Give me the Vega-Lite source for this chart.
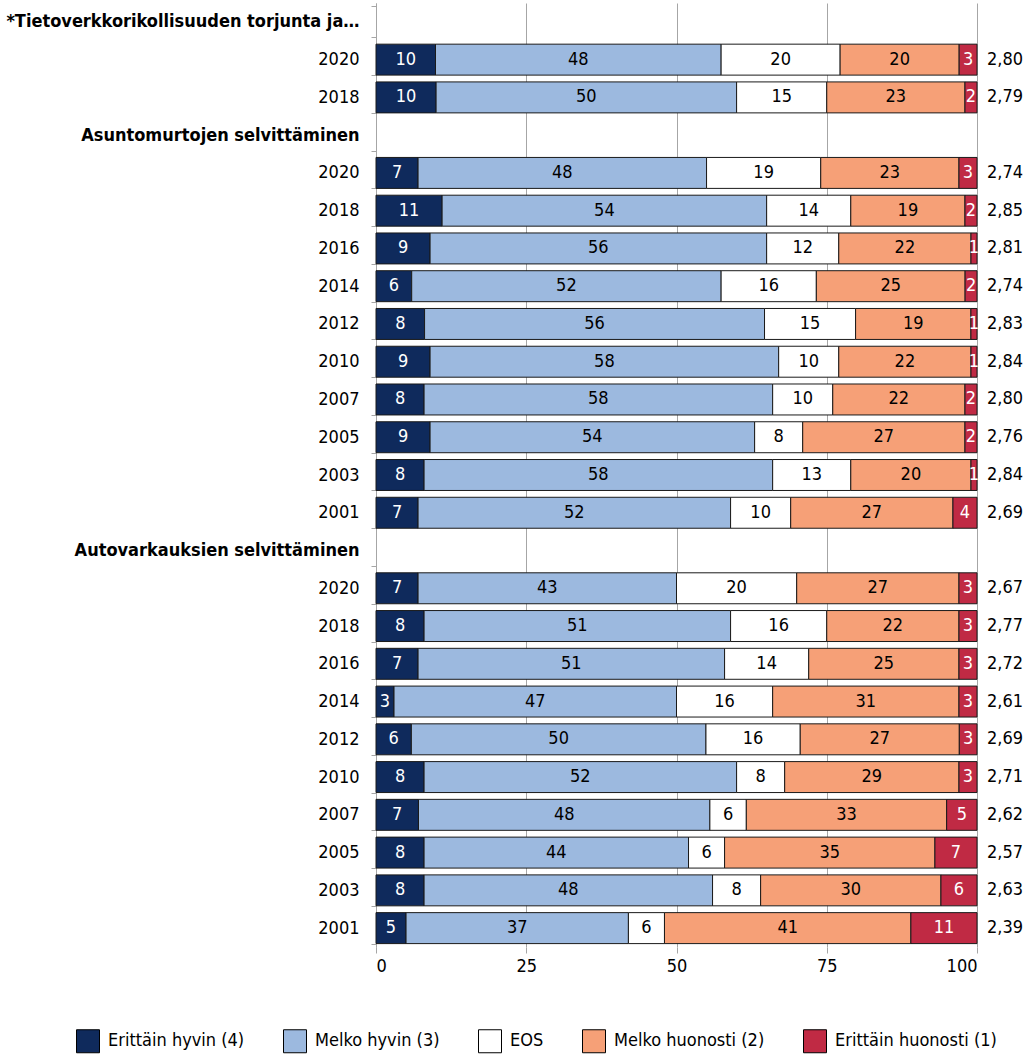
{
  "$schema": "https://vega.github.io/schema/vega-lite/v6.json",
  "width": 601,
  "height": 944,
  "autosize": {"type": "none"},
  "padding": {"left": 376, "top": 3, "right": 54, "bottom": 108},
  "background": "white",
  "config": {
    "font": "DejaVu Sans Condensed",
    "view": {"stroke": null}
  },
  "datasets": {
    "means": [
      {"row": "T|2020", "mean": "2,80"}, {"row": "T|2018", "mean": "2,79"},
      {"row": "A|2020", "mean": "2,74"}, {"row": "A|2018", "mean": "2,85"}, {"row": "A|2016", "mean": "2,81"}, {"row": "A|2014", "mean": "2,74"}, {"row": "A|2012", "mean": "2,83"},
      {"row": "A|2010", "mean": "2,84"}, {"row": "A|2007", "mean": "2,80"}, {"row": "A|2005", "mean": "2,76"}, {"row": "A|2003", "mean": "2,84"}, {"row": "A|2001", "mean": "2,69"},
      {"row": "V|2020", "mean": "2,67"}, {"row": "V|2018", "mean": "2,77"}, {"row": "V|2016", "mean": "2,72"}, {"row": "V|2014", "mean": "2,61"}, {"row": "V|2012", "mean": "2,69"},
      {"row": "V|2010", "mean": "2,71"}, {"row": "V|2007", "mean": "2,62"}, {"row": "V|2005", "mean": "2,57"}, {"row": "V|2003", "mean": "2,63"}, {"row": "V|2001", "mean": "2,39"}
    ],
    "bars": [
      {"row": "T|2020", "cat": "k1", "val": 10}, {"row": "T|2020", "cat": "k2", "val": 48}, {"row": "T|2020", "cat": "k3", "val": 20}, {"row": "T|2020", "cat": "k4", "val": 20}, {"row": "T|2020", "cat": "k5", "val": 3},
      {"row": "T|2018", "cat": "k1", "val": 10}, {"row": "T|2018", "cat": "k2", "val": 50}, {"row": "T|2018", "cat": "k3", "val": 15}, {"row": "T|2018", "cat": "k4", "val": 23}, {"row": "T|2018", "cat": "k5", "val": 2},
      {"row": "A|2020", "cat": "k1", "val": 7}, {"row": "A|2020", "cat": "k2", "val": 48}, {"row": "A|2020", "cat": "k3", "val": 19}, {"row": "A|2020", "cat": "k4", "val": 23}, {"row": "A|2020", "cat": "k5", "val": 3},
      {"row": "A|2018", "cat": "k1", "val": 11}, {"row": "A|2018", "cat": "k2", "val": 54}, {"row": "A|2018", "cat": "k3", "val": 14}, {"row": "A|2018", "cat": "k4", "val": 19}, {"row": "A|2018", "cat": "k5", "val": 2},
      {"row": "A|2016", "cat": "k1", "val": 9}, {"row": "A|2016", "cat": "k2", "val": 56}, {"row": "A|2016", "cat": "k3", "val": 12}, {"row": "A|2016", "cat": "k4", "val": 22}, {"row": "A|2016", "cat": "k5", "val": 1},
      {"row": "A|2014", "cat": "k1", "val": 6}, {"row": "A|2014", "cat": "k2", "val": 52}, {"row": "A|2014", "cat": "k3", "val": 16}, {"row": "A|2014", "cat": "k4", "val": 25}, {"row": "A|2014", "cat": "k5", "val": 2},
      {"row": "A|2012", "cat": "k1", "val": 8}, {"row": "A|2012", "cat": "k2", "val": 56}, {"row": "A|2012", "cat": "k3", "val": 15}, {"row": "A|2012", "cat": "k4", "val": 19}, {"row": "A|2012", "cat": "k5", "val": 1},
      {"row": "A|2010", "cat": "k1", "val": 9}, {"row": "A|2010", "cat": "k2", "val": 58}, {"row": "A|2010", "cat": "k3", "val": 10}, {"row": "A|2010", "cat": "k4", "val": 22}, {"row": "A|2010", "cat": "k5", "val": 1},
      {"row": "A|2007", "cat": "k1", "val": 8}, {"row": "A|2007", "cat": "k2", "val": 58}, {"row": "A|2007", "cat": "k3", "val": 10}, {"row": "A|2007", "cat": "k4", "val": 22}, {"row": "A|2007", "cat": "k5", "val": 2},
      {"row": "A|2005", "cat": "k1", "val": 9}, {"row": "A|2005", "cat": "k2", "val": 54}, {"row": "A|2005", "cat": "k3", "val": 8}, {"row": "A|2005", "cat": "k4", "val": 27}, {"row": "A|2005", "cat": "k5", "val": 2},
      {"row": "A|2003", "cat": "k1", "val": 8}, {"row": "A|2003", "cat": "k2", "val": 58}, {"row": "A|2003", "cat": "k3", "val": 13}, {"row": "A|2003", "cat": "k4", "val": 20}, {"row": "A|2003", "cat": "k5", "val": 1},
      {"row": "A|2001", "cat": "k1", "val": 7}, {"row": "A|2001", "cat": "k2", "val": 52}, {"row": "A|2001", "cat": "k3", "val": 10}, {"row": "A|2001", "cat": "k4", "val": 27}, {"row": "A|2001", "cat": "k5", "val": 4},
      {"row": "V|2020", "cat": "k1", "val": 7}, {"row": "V|2020", "cat": "k2", "val": 43}, {"row": "V|2020", "cat": "k3", "val": 20}, {"row": "V|2020", "cat": "k4", "val": 27}, {"row": "V|2020", "cat": "k5", "val": 3},
      {"row": "V|2018", "cat": "k1", "val": 8}, {"row": "V|2018", "cat": "k2", "val": 51}, {"row": "V|2018", "cat": "k3", "val": 16}, {"row": "V|2018", "cat": "k4", "val": 22}, {"row": "V|2018", "cat": "k5", "val": 3},
      {"row": "V|2016", "cat": "k1", "val": 7}, {"row": "V|2016", "cat": "k2", "val": 51}, {"row": "V|2016", "cat": "k3", "val": 14}, {"row": "V|2016", "cat": "k4", "val": 25}, {"row": "V|2016", "cat": "k5", "val": 3},
      {"row": "V|2014", "cat": "k1", "val": 3}, {"row": "V|2014", "cat": "k2", "val": 47}, {"row": "V|2014", "cat": "k3", "val": 16}, {"row": "V|2014", "cat": "k4", "val": 31}, {"row": "V|2014", "cat": "k5", "val": 3},
      {"row": "V|2012", "cat": "k1", "val": 6}, {"row": "V|2012", "cat": "k2", "val": 50}, {"row": "V|2012", "cat": "k3", "val": 16}, {"row": "V|2012", "cat": "k4", "val": 27}, {"row": "V|2012", "cat": "k5", "val": 3},
      {"row": "V|2010", "cat": "k1", "val": 8}, {"row": "V|2010", "cat": "k2", "val": 52}, {"row": "V|2010", "cat": "k3", "val": 8}, {"row": "V|2010", "cat": "k4", "val": 29}, {"row": "V|2010", "cat": "k5", "val": 3},
      {"row": "V|2007", "cat": "k1", "val": 7}, {"row": "V|2007", "cat": "k2", "val": 48}, {"row": "V|2007", "cat": "k3", "val": 6}, {"row": "V|2007", "cat": "k4", "val": 33}, {"row": "V|2007", "cat": "k5", "val": 5},
      {"row": "V|2005", "cat": "k1", "val": 8}, {"row": "V|2005", "cat": "k2", "val": 44}, {"row": "V|2005", "cat": "k3", "val": 6}, {"row": "V|2005", "cat": "k4", "val": 35}, {"row": "V|2005", "cat": "k5", "val": 7},
      {"row": "V|2003", "cat": "k1", "val": 8}, {"row": "V|2003", "cat": "k2", "val": 48}, {"row": "V|2003", "cat": "k3", "val": 8}, {"row": "V|2003", "cat": "k4", "val": 30}, {"row": "V|2003", "cat": "k5", "val": 6},
      {"row": "V|2001", "cat": "k1", "val": 5}, {"row": "V|2001", "cat": "k2", "val": 37}, {"row": "V|2001", "cat": "k3", "val": 6}, {"row": "V|2001", "cat": "k4", "val": 41}, {"row": "V|2001", "cat": "k5", "val": 11}
    ]
  },
  "encoding": {
    "y": {
      "field": "row",
      "type": "nominal",
      "sort": null,
      "title": null,
      "scale": {
        "domain": [
          "H1|*Tietoverkkorikollisuuden torjunta ja…", "T|2020", "T|2018",
          "H2|Asuntomurtojen selvittäminen", "A|2020", "A|2018", "A|2016", "A|2014", "A|2012", "A|2010", "A|2007", "A|2005", "A|2003", "A|2001",
          "H3|Autovarkauksien selvittäminen", "V|2020", "V|2018", "V|2016", "V|2014", "V|2012", "V|2010", "V|2007", "V|2005", "V|2003", "V|2001"
        ],
        "paddingInner": 0.18,
        "paddingOuter": 0.09
      },
      "axis": {
        "labelExpr": "split(datum.value, '|')[1]",
        "labelFontWeight": {"condition": {"test": "substring(datum.value, 0, 1) == 'H'", "value": "bold"}, "value": "normal"},
        "labelFontSize": 18,
        "labelColor": "black",
        "labelPadding": 12,
        "labelLimit": 400,
        "domain": true,
        "domainColor": "#a6a6a6",
        "ticks": true,
        "tickColor": "#a6a6a6",
        "tickBand": "extent",
        "tickSize": 5,
        "grid": false
      }
    }
  },
  "layer": [
    {
      "data": {"name": "bars"},
      "mark": {"type": "bar", "stroke": "#1a1a1a", "strokeWidth": 1},
      "encoding": {
        "x": {
          "field": "val",
          "type": "quantitative",
          "stack": "normalize",
          "title": null,
          "scale": {"domain": [0, 1], "nice": false},
          "axis": {
            "values": [0, 0.25, 0.5, 0.75, 1],
            "labelExpr": "format(datum.value * 100, 'd')",
            "grid": true,
            "gridColor": "#a6a6a6",
            "domain": false,
            "tickColor": "#a6a6a6",
            "tickSize": 6,
            "labelFontSize": 18,
            "labelColor": "black",
            "labelPadding": 4
          }
        },
        "order": {"field": "cat", "type": "ordinal", "sort": "ascending"},
        "color": {
          "field": "cat",
          "type": "nominal",
          "scale": {
            "domain": ["k1", "k2", "k3", "k4", "k5"],
            "range": ["#0f2a5c", "#9cb9df", "#ffffff", "#f6a077", "#c02a44"]
          },
          "legend": {
            "orient": "none",
            "legendX": -300,
            "legendY": 1026,
            "direction": "horizontal",
            "title": null,
            "symbolType": "square",
            "symbolSize": 529,
            "symbolStrokeColor": "black",
            "symbolStrokeWidth": 1,
            "symbolOpacity": 1,
            "labelFontSize": 18,
            "labelColor": "black",
            "labelOffset": 8,
            "columnPadding": 36,
            "labelLimit": 300,
            "labelExpr": "datum.value == 'k1' ? 'Erittäin hyvin (4)' : datum.value == 'k2' ? 'Melko hyvin (3)' : datum.value == 'k3' ? 'EOS' : datum.value == 'k4' ? 'Melko huonosti (2)' : 'Erittäin huonosti (1)'"
          }
        }
      }
    },
    {
      "data": {"name": "bars"},
      "mark": {"type": "text", "fontSize": 18, "baseline": "middle"},
      "encoding": {
        "x": {"field": "val", "type": "quantitative", "stack": "normalize", "bandPosition": 0.5},
        "detail": {"field": "cat", "type": "nominal"},
        "order": {"field": "cat", "type": "ordinal", "sort": "ascending"},
        "text": {"field": "val", "type": "quantitative"},
        "color": {"condition": {"test": "datum.cat == 'k1' || datum.cat == 'k5'", "value": "white"}, "value": "black"}
      }
    },
    {
      "data": {"name": "means"},
      "mark": {"type": "text", "align": "left", "dx": 10, "fontSize": 18, "baseline": "middle", "color": "black"},
      "encoding": {
        "x": {"datum": 1, "type": "quantitative"},
        "text": {"field": "mean", "type": "nominal"}
      }
    }
  ]
}
